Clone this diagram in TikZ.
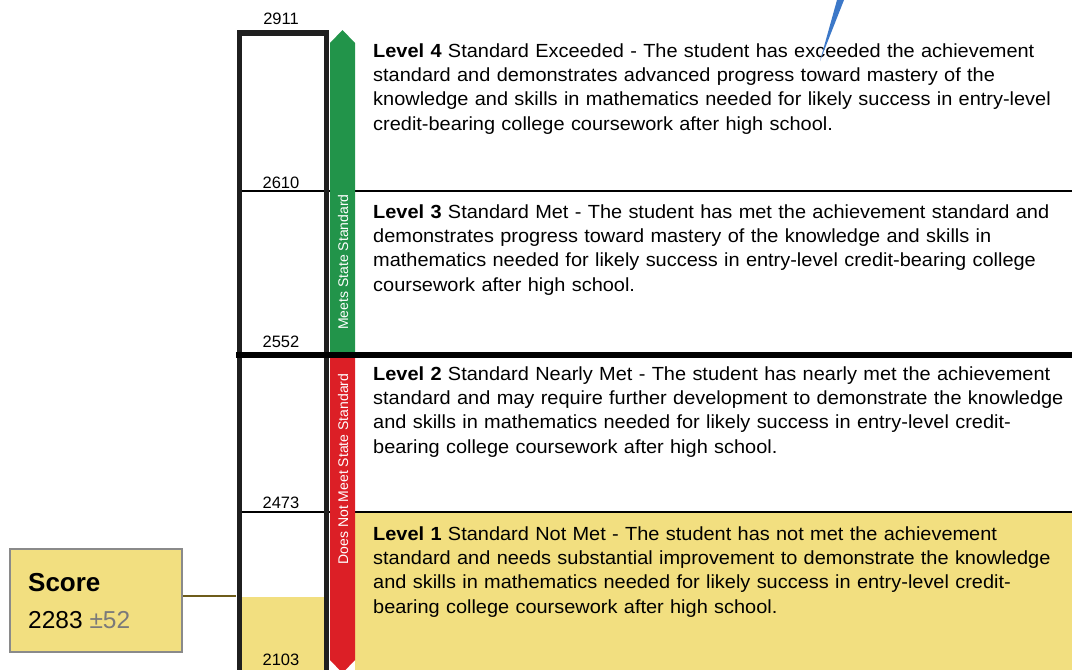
\documentclass[tikz,border=0pt]{standalone}
\usepackage{fontspec}
\setmainfont{Liberation Sans}
\newfontfamily\levelfont[FakeStretch=1.05]{Liberation Sans}
\definecolor{lvlyellow}{HTML}{F2DF80}
\definecolor{meetgreen}{HTML}{22944A}
\definecolor{notred}{HTML}{DC1F26}
\definecolor{pinblue}{HTML}{3C78C8}
\definecolor{linkolive}{HTML}{6E5C1A}
\definecolor{boxgray}{HTML}{8A8A8A}
\definecolor{pmgray}{HTML}{7A7A7A}
\tikzset{
  cut/.style={font=\fontsize{16.5}{18}\selectfont, anchor=base, inner sep=0pt},
  leveltext/.style={font=\levelfont\fontsize{19}{24.4}\selectfont, anchor=base west, inner sep=0pt, text width=720pt, align=left},
  bandtext/.style={font=\fontsize{14}{16}\selectfont, text=white, rotate=90, inner sep=0pt},
  thinrule/.style={line width=1.8pt, black},
  thickrule/.style={line width=6pt, black},
}
\begin{document}
\begin{tikzpicture}[x=1pt,y=-1pt]
\useasboundingbox (0,0) rectangle (1072,670);
% Level 1 background
\fill[lvlyellow] (355,513) rectangle (1072,672);
% column score fill
\fill[lvlyellow] (242,597) rectangle (324,672);
% thin rules
\draw[thinrule] (239,191) -- (1072,191);
\draw[thinrule] (239,512) -- (1072,512);
% frame
\draw[line width=5.5pt, black!88] (239.5,33) rectangle (326.5,690);
% green arrow
\fill[meetgreen] (330,352) -- (330,43) -- (342.5,30) -- (355,43) -- (355,352) -- cycle;
% red arrow
\fill[notred] (330,357) -- (355,357) -- (355,660) -- (342.5,673) -- (330,660) -- cycle;
% thick rule
\draw[thickrule] (236,355) -- (1072,355);
\node[bandtext] (meets) at (343,262) {Meets State Standard};
\node[bandtext] (notmeets) at (343,469) {Does Not Meet State Standard};
% cut scores
\node[cut] (c2911) at (281,24) {2911};
\node[cut] (c2610) at (281,188) {2610};
\node[cut] (c2552) at (281,347) {2552};
\node[cut] (c2473) at (281,508) {2473};
\node[cut] (c2103) at (281,665) {2103};
% level descriptions
\node[leveltext] (l4) at (373,57) {\textbf{Level 4} Standard Exceeded - The student has exceeded the achievement\\standard and demonstrates advanced progress toward mastery of the\\knowledge and skills in mathematics needed for likely success in entry-level\\credit-bearing college coursework after high school.};
\node[leveltext] (l3) at (373,218) {\textbf{Level 3} Standard Met - The student has met the achievement standard and\\demonstrates progress toward mastery of the knowledge and skills in\\mathematics needed for likely success in entry-level credit-bearing college\\coursework after high school.};
\node[leveltext] (l2) at (373,380) {\textbf{Level 2} Standard Nearly Met - The student has nearly met the achievement\\standard and may require further development to demonstrate the knowledge\\and skills in mathematics needed for likely success in entry-level credit-\\bearing college coursework after high school.};
\node[leveltext] (l1) at (373,540) {\textbf{Level 1} Standard Not Met - The student has not met the achievement\\standard and needs substantial improvement to demonstrate the knowledge\\and skills in mathematics needed for likely success in entry-level credit-\\bearing college coursework after high school.};
% score box
\node[draw=boxgray, line width=1.5pt, fill=lvlyellow, minimum width=172pt, minimum height=103pt, inner sep=0pt] (score) at (96,600.5) {};
\node[anchor=base west, inner sep=0pt, font=\fontsize{26}{28}\selectfont\bfseries] (scorelbl) at (28,591) {Score};
\node[anchor=base west, inner sep=0pt, font=\fontsize{24.5}{28}\selectfont] (scoreval) at (28,628) {2283 \textcolor{pmgray}{±52}};
\coordinate (framehit) at (236,596);
\draw[linkolive, line width=1.5pt] (score.east |- framehit) -- (framehit);
% blue pointer
\fill[pinblue] (837,0) -- (844,0) -- (820,61) -- cycle;
\end{tikzpicture}
\end{document}
